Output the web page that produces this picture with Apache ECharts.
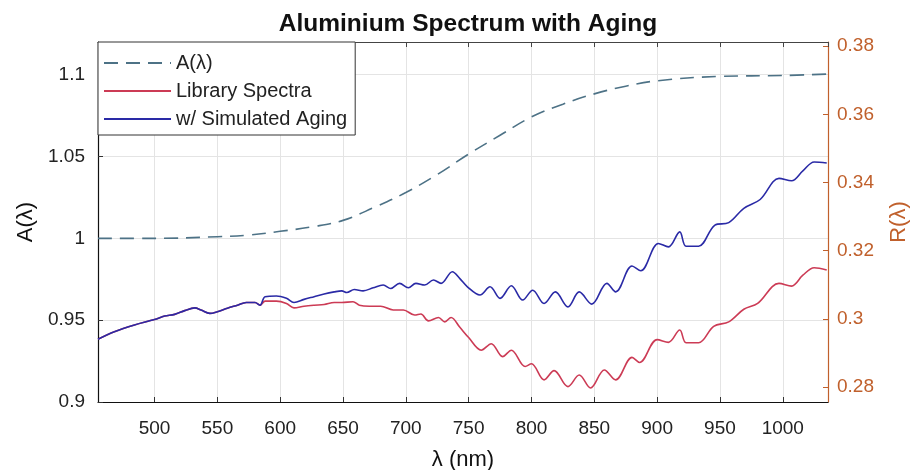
<!DOCTYPE html>
<html>
<head>
<meta charset="UTF-8">
<title>Aluminium Spectrum with Aging</title>
<script src="https://cdn.jsdelivr.net/npm/echarts@6/dist/echarts.min.js"></script>
<style>
  html, body { margin: 0; padding: 0; background: #fff; }
  #chart { width: 918px; height: 470px; }
</style>
</head>
<body>
<div id="chart"></div>
<script type="text/javascript">
// A(lambda), left axis
var aWl  = [455, 500, 550, 575, 600, 625, 650, 675, 700, 725, 750, 775, 800, 825, 850, 875, 900, 950, 1000, 1035];
var aVal = [1.0, 1.0, 1.001, 1.002, 1.0043, 1.007, 1.011, 1.019, 1.028, 1.039, 1.0515, 1.063, 1.0742, 1.082, 1.0883, 1.093, 1.0963, 1.099, 1.0995, 1.1004];

// library spectra, right axis
var libWl  = [455, 468, 484, 500, 508, 516, 524, 532, 537, 544, 550, 558, 566, 573, 580, 584, 588, 597, 605, 611,
              619, 627, 635, 643, 649, 658, 663, 671, 680, 690, 698, 707, 712, 718, 726, 731, 736, 743, 750, 760,
              768, 777, 784, 795, 800, 810, 818, 829, 838, 847, 858, 867, 880, 886, 900, 909, 918, 923, 933, 945,
              957, 969, 980, 997, 1007, 1016, 1025, 1035];
var libVal = [0.2940, 0.2962, 0.2982, 0.2998, 0.3008, 0.3013, 0.3024, 0.3032, 0.3026, 0.3016, 0.3021, 0.3031, 0.3040, 0.3048, 0.3048, 0.3040, 0.3052, 0.3052, 0.3045, 0.3032,
              0.3037, 0.3040, 0.3042, 0.3048, 0.3048, 0.3050, 0.3040, 0.3037, 0.3037, 0.3026, 0.3026, 0.3011, 0.3014, 0.2994, 0.3004, 0.2991, 0.3004, 0.2975, 0.2945, 0.2908,
              0.2927, 0.2889, 0.2908, 0.2860, 0.2868, 0.2821, 0.2848, 0.2801, 0.2835, 0.2797, 0.2850, 0.2821, 0.2887, 0.2872, 0.2939, 0.2931, 0.2967, 0.2930, 0.2930, 0.2978,
              0.2991, 0.3028, 0.3045, 0.3104, 0.3096, 0.3128, 0.3150, 0.3143];

// with simulated aging, right axis
var ageWl  = [455, 468, 484, 500, 508, 516, 524, 532, 537, 544, 550, 558, 566, 573, 580, 584, 588, 597, 605, 611,
              619, 627, 635, 643, 649, 653, 659, 666, 674, 682, 688, 695, 702, 708, 715, 722, 728, 737, 743, 749,
              759, 767, 775, 784, 793, 801, 810, 819, 829, 838, 848, 860, 867, 880, 887, 901, 909, 918, 923, 933,
              946, 957, 969, 982, 997, 1007, 1016, 1025, 1035];
var ageVal = [0.2940, 0.2962, 0.2982, 0.2998, 0.3008, 0.3013, 0.3024, 0.3032, 0.3026, 0.3016, 0.3021, 0.3031, 0.3040, 0.3048, 0.3048, 0.3040, 0.3065, 0.3067, 0.3060, 0.3048,
              0.3057, 0.3065, 0.3073, 0.3079, 0.3082, 0.3077, 0.3086, 0.3082, 0.3091, 0.3099, 0.3089, 0.3104, 0.3091, 0.3104, 0.3099, 0.3114, 0.3104, 0.3138, 0.3118, 0.3094,
              0.3070, 0.3094, 0.3060, 0.3097, 0.3055, 0.3084, 0.3045, 0.3079, 0.3035, 0.3079, 0.3043, 0.3104, 0.3079, 0.3155, 0.3141, 0.3221, 0.3211, 0.3255, 0.3213, 0.3213,
              0.3275, 0.3282, 0.3324, 0.3350, 0.3412, 0.3405, 0.3434, 0.3460, 0.3457];

function pairs(xs, ys) {
	var out = [];
	for (var i = 0; i < xs.length; i++) out.push([xs[i], ys[i]]);
	return out;
}

var font = 'Liberation Sans, Arial, Helvetica, sans-serif';
var rightColor = '#c0602c';
var myChart = echarts.init(document.getElementById('chart'));

var option = {
	animation: false,
	backgroundColor: '#ffffff',
	textStyle: { fontFamily: font },
	title: {
		text: 'Aluminium Spectrum with Aging',
		left: 463, top: 7, textAlign: 'center',
		textStyle: { fontSize: 24.5, fontWeight: 'bold', color: '#111', fontFamily: font }
	},
	legend: {
		orient: 'vertical',
		left: 98, top: 42,
		itemWidth: 67, itemHeight: 20, itemGap: 8,
		padding: [11, 8, 6, 5],
		backgroundColor: '#fff',
		borderColor: '#333', borderWidth: 1,
		itemStyle: { opacity: 0 },
		textStyle: { fontSize: 20, color: '#222', fontFamily: font },
		data: ['A(λ)', 'Library Spectra', 'w/ Simulated Aging']
	},
	grid: { left: 98, right: 90, top: 42, bottom: 68, outerBoundsMode: 'none' },
	xAxis: [{
		type: 'value', min: 455, max: 1036, splitNumber: 12,
		name: 'λ (nm)', nameLocation: 'middle', nameGap: 47,
		nameTextStyle: { fontSize: 22, color: '#111' },
		axisLine: { lineStyle: { color: '#111', width: 1.2 } },
		axisTick: { inside: true, length: 5, lineStyle: { color: '#333' } },
		axisLabel: {
			fontSize: 19, color: '#222', margin: 17, showMinLabel: false, showMaxLabel: false,
			formatter: function (v) { return String(v); }
		},
		splitLine: { show: true, lineStyle: { color: '#e4e4e4' } }
	}, {
		type: 'value', min: 455, max: 1036, splitNumber: 12, position: 'top',
		axisLine: { lineStyle: { color: '#444' } },
		axisTick: { inside: true, length: 5, lineStyle: { color: '#444' } },
		axisLabel: { show: false },
		splitLine: { show: false }
	}],
	yAxis: [{
		type: 'value', min: 0.9, max: 1.12, interval: 0.05, position: 'left',
		name: 'A(λ)', nameLocation: 'middle', nameGap: 60, nameRotate: 90,
		nameTextStyle: { fontSize: 22, color: '#111' },
		axisLine: { show: true, lineStyle: { color: '#111', width: 1.2 } },
		axisTick: { show: true, inside: true, length: 5, lineStyle: { color: '#333' } },
		axisLabel: { fontSize: 19, color: '#222', margin: 13, showMaxLabel: false },
		splitLine: { show: true, lineStyle: { color: '#e4e4e4' } }
	}, {
		type: 'value', min: 0.2756, max: 0.3812, splitNumber: 5, position: 'right',
		name: 'R(λ)', nameLocation: 'middle', nameGap: 60, nameRotate: 90,
		nameTextStyle: { fontSize: 22, color: rightColor },
		axisLine: { show: true, lineStyle: { color: rightColor, width: 1.2 } },
		axisTick: { show: true, inside: true, length: 5, lineStyle: { color: rightColor } },
		axisLabel: { fontSize: 19, color: rightColor, margin: 9, showMinLabel: false, showMaxLabel: false },
		splitLine: { show: false }
	}],
	series: [{
		name: 'A(λ)', type: 'line', yAxisIndex: 0, xAxisIndex: 0,
		data: pairs(aWl, aVal), smooth: 0.4, symbol: 'none',
		lineStyle: { color: '#4d7286', width: 1.6, type: [14, 8] },
		itemStyle: { color: '#4d7286' }
	}, {
		name: 'Library Spectra', type: 'line', yAxisIndex: 1, xAxisIndex: 0,
		data: pairs(libWl, libVal), smooth: 0.35, symbol: 'none',
		lineStyle: { color: '#cc3b55', width: 1.6 },
		itemStyle: { color: '#e8607a' }
	}, {
		name: 'w/ Simulated Aging', type: 'line', yAxisIndex: 1, xAxisIndex: 0,
		data: pairs(ageWl, ageVal), smooth: 0.35, symbol: 'none',
		lineStyle: { color: '#2a2aa6', width: 1.6 },
		itemStyle: { color: '#2a2aa6' }
	}]
};
myChart.setOption(option);
</script>
</body>
</html>
